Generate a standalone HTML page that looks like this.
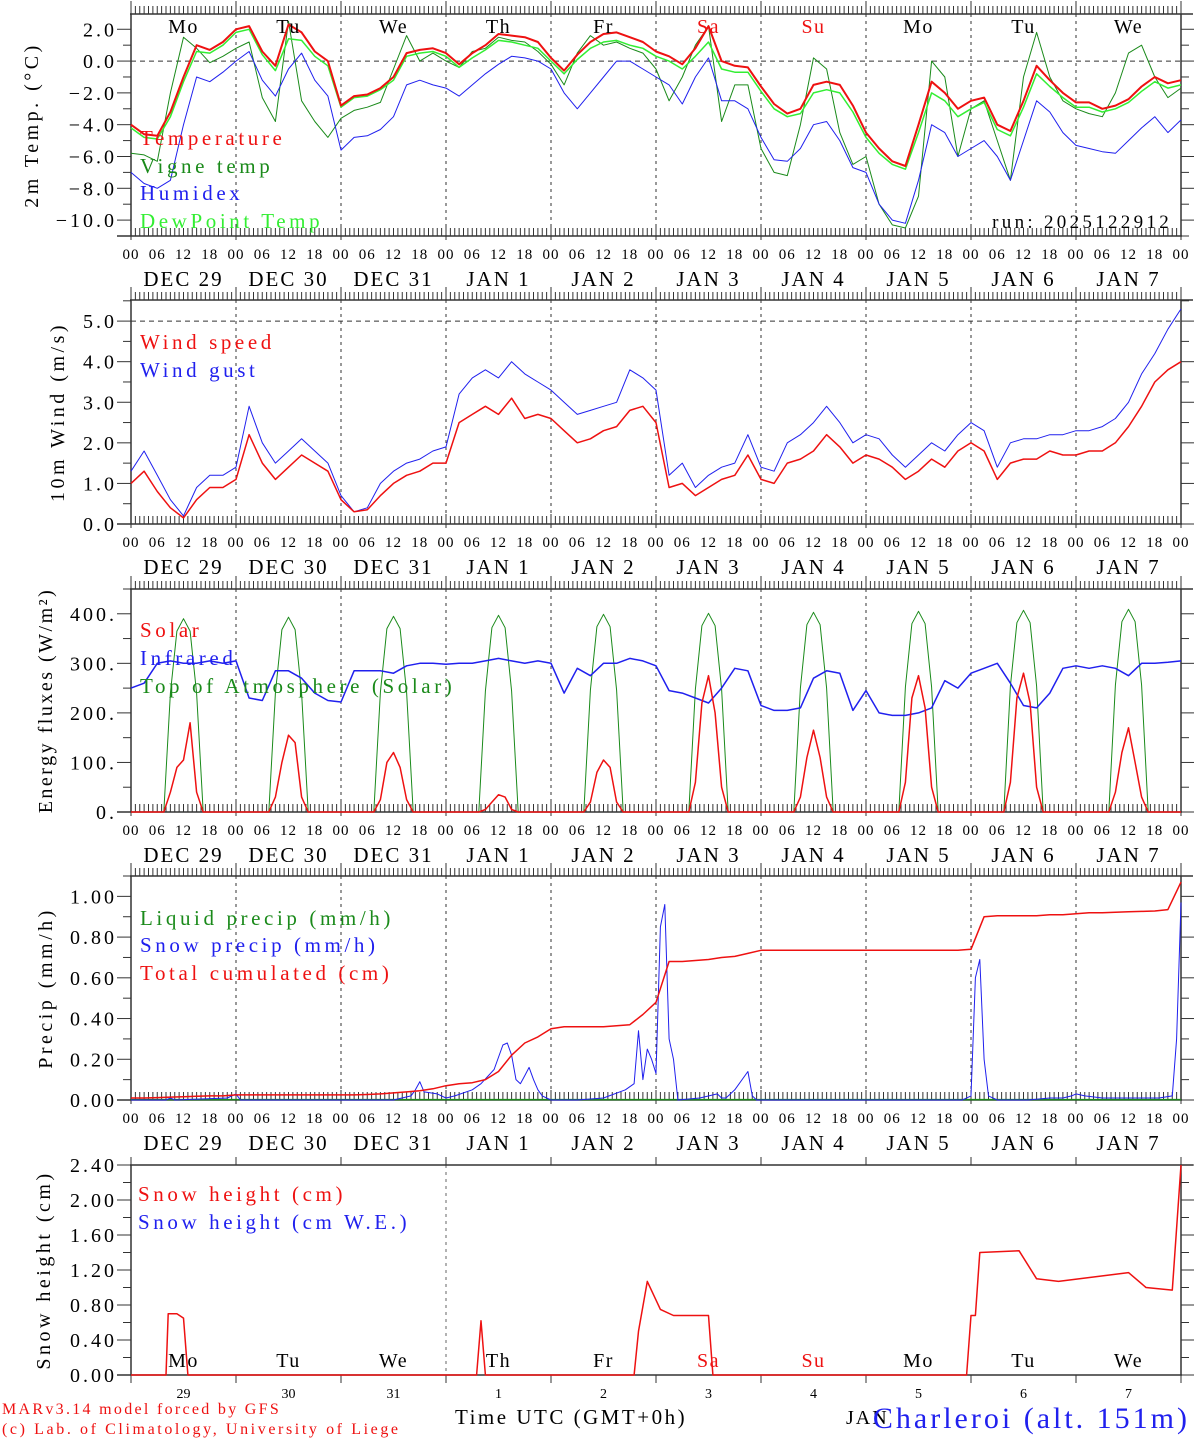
<!DOCTYPE html>
<html><head><meta charset="utf-8"><title>MAR forecast Charleroi</title>
<style>
html,body{margin:0;padding:0;background:#fff;}
svg{display:block;font-family:"Liberation Serif",serif;}
</style></head>
<body>
<svg id="chart" width="1194" height="1440" viewBox="0 0 1194 1440" xmlns="http://www.w3.org/2000/svg"></svg>
<script>
// ---- data (3-hourly, t = 0..240 h from DEC 29 00 UTC) ----
const dayNames = ["Mo","Tu","We","Th","Fr","Sa","Su","Mo","Tu","We"];
const dateLabels = ["DEC  29","DEC  30","DEC  31","JAN   1","JAN   2","JAN   3","JAN   4","JAN   5","JAN   6","JAN   7"];
const dayNums = ["29","30","31","1","2","3","4","5","6","7"];
const hourLabels = ["00","06","12","18"];

const tempRed = [-4.0,-4.6,-4.7,-3.2,-1.0,1.0,0.7,1.2,2.0,2.2,0.6,-0.3,2.3,1.8,0.6,0.0,-2.8,-2.2,-2.1,-1.7,-1.0,0.5,0.7,0.8,0.5,
 -0.2,0.5,1.0,1.7,1.6,1.5,1.2,0.2,-0.6,0.4,1.2,1.7,1.8,1.5,1.2,0.6,0.3,-0.2,0.8,2.2,0.0,-0.3,-0.4,-1.6,
 -2.7,-3.3,-3.0,-1.5,-1.3,-1.5,-2.8,-4.5,-5.5,-6.3,-6.6,-4.0,-1.3,-2.0,-3.0,-2.5,-2.3,-4.0,-4.4,-2.5,-0.3,-1.2,-2.0,-2.6,
 -2.6,-3.0,-2.8,-2.4,-1.6,-1.0,-1.4,-1.2];
const tempDew = [-4.2,-4.8,-4.9,-3.5,-1.3,0.6,0.5,1.0,1.8,2.0,0.4,-0.6,1.4,1.3,0.3,-0.3,-2.9,-2.3,-2.2,-1.8,-1.2,0.3,0.5,0.6,0.3,
 -0.4,0.2,0.7,1.3,1.2,1.0,0.8,0.0,-0.8,0.1,0.8,1.2,1.3,1.0,0.8,0.3,0.0,-0.5,0.3,1.2,-0.5,-0.7,-0.7,-1.9,
 -3.0,-3.5,-3.3,-2.0,-1.8,-2.0,-3.2,-4.8,-5.8,-6.5,-6.8,-4.5,-2.0,-2.5,-3.5,-3.0,-2.6,-4.3,-4.7,-2.9,-0.8,-1.6,-2.3,-2.9,
 -2.9,-3.2,-3.0,-2.6,-1.9,-1.3,-1.7,-1.5];
const tempVigne = [-5.8,-5.9,-6.3,-2.0,1.5,0.8,-0.1,0.3,0.8,1.2,-2.3,-3.8,2.5,-2.5,-3.8,-4.8,-3.6,-3.1,-2.9,-2.6,-0.5,1.6,0.0,0.5,0.0,
 -0.4,0.6,0.8,1.5,1.3,1.2,0.6,-0.2,-1.5,0.5,1.6,1.0,1.2,0.8,0.5,-0.5,-2.5,-1.0,1.0,2.2,-3.8,-1.5,-1.5,-5.5,
 -7.0,-7.2,-4.0,0.2,-0.5,-4.5,-6.5,-6.0,-9.0,-10.3,-10.5,-8.5,0.0,-1.0,-6.0,-3.0,-2.5,-5.0,-7.5,-1.0,1.8,-1.0,-2.5,-3.0,
 -3.3,-3.5,-2.0,0.5,1.0,-1.0,-2.3,-1.7];
const tempHumidex = [-7.0,-7.7,-8.0,-7.5,-4.0,-1.0,-1.3,-0.7,0.0,0.6,-1.2,-2.2,-0.5,0.5,-1.2,-2.2,-5.6,-4.8,-4.7,-4.3,-3.5,-1.5,-1.2,-1.5,-1.7,
 -2.2,-1.5,-0.8,-0.2,0.3,0.2,0.0,-0.5,-2.0,-3.0,-2.0,-1.0,0.0,0.0,-0.5,-1.0,-1.5,-2.7,-1.0,0.2,-2.5,-2.5,-3.0,-4.8,
 -6.2,-6.3,-5.5,-4.0,-3.8,-5.0,-6.7,-7.0,-9.0,-10.0,-10.2,-7.5,-4.0,-4.5,-6.0,-5.5,-5.0,-6.0,-7.5,-5.0,-2.5,-3.2,-4.5,-5.3,
 -5.5,-5.7,-5.8,-5.0,-4.2,-3.5,-4.5,-3.7];

const windSpeed = [1.0,1.3,0.8,0.4,0.15,0.6,0.9,0.9,1.1,2.2,1.5,1.1,1.4,1.7,1.5,1.3,0.6,0.3,0.35,0.7,1.0,1.2,1.3,1.5,1.5,
 2.5,2.7,2.9,2.7,3.1,2.6,2.7,2.6,2.3,2.0,2.1,2.3,2.4,2.8,2.9,2.5,0.9,1.0,0.7,0.9,1.1,1.2,1.7,1.1,
 1.0,1.5,1.6,1.8,2.2,1.9,1.5,1.7,1.6,1.4,1.1,1.3,1.6,1.4,1.8,2.0,1.8,1.1,1.5,1.6,1.6,1.8,1.7,1.7,
 1.8,1.8,2.0,2.4,2.9,3.5,3.8,4.0];
const windGust = [1.3,1.8,1.2,0.6,0.2,0.9,1.2,1.2,1.4,2.9,2.0,1.5,1.8,2.1,1.8,1.5,0.7,0.3,0.4,1.0,1.3,1.5,1.6,1.8,1.9,
 3.2,3.6,3.8,3.6,4.0,3.7,3.5,3.3,3.0,2.7,2.8,2.9,3.0,3.8,3.6,3.3,1.2,1.5,0.9,1.2,1.4,1.5,2.2,1.4,
 1.3,2.0,2.2,2.5,2.9,2.5,2.0,2.2,2.1,1.7,1.4,1.7,2.0,1.8,2.2,2.5,2.3,1.4,2.0,2.1,2.1,2.2,2.2,2.3,
 2.3,2.4,2.6,3.0,3.7,4.2,4.8,5.3];

const infrared = [250,260,300,305,300,300,305,300,305,230,225,285,285,270,240,225,222,285,285,285,280,295,300,300,298,
 300,300,305,310,305,300,305,300,240,290,275,300,300,310,305,295,245,240,230,220,250,290,285,215,
 205,205,210,270,285,280,205,245,200,195,195,200,210,265,250,280,290,300,260,215,210,240,290,295,
 290,295,290,275,300,300,302,305];
// solar / TOA sampled at these hours of each day
const sunHours = [0,7.5,9,10.5,12,13.5,15,16.5,24];
const toaDays = [
 [0,0,240,365,390,365,240,0,0],[0,0,240,368,393,368,240,0,0],[0,0,242,370,395,370,242,0,0],[0,0,244,372,397,372,244,0,0],[0,0,246,374,399,374,246,0,0],
 [0,0,248,376,401,376,248,0,0],[0,0,250,378,403,378,250,0,0],[0,0,252,380,405,380,252,0,0],[0,0,254,382,407,382,254,0,0],[0,0,256,384,409,384,256,0,0]];
const solarDays = [
 [0,0,40,90,105,180,40,0,0],[0,0,30,100,155,140,30,0,0],[0,0,25,100,120,90,25,0,0],[0,0,5,20,35,30,5,0,0],[0,0,20,80,105,90,20,0,0],
 [0,0,60,220,275,200,50,0,0],[0,0,30,110,165,110,30,0,0],[0,0,60,230,275,210,50,0,0],[0,0,60,230,280,220,50,0,0],[0,0,40,120,170,100,30,0,0]];

const precipTotal = [0.01,0.01,0.012,0.014,0.016,0.018,0.02,0.02,0.025,0.025,0.025,0.025,0.025,0.025,0.025,0.025,0.025,0.025,0.027,0.03,0.035,0.04,0.045,0.055,0.07,
 0.08,0.085,0.1,0.14,0.22,0.28,0.31,0.35,0.36,0.36,0.36,0.36,0.365,0.37,0.42,0.48,0.68,0.68,0.685,0.69,0.7,0.705,0.72,0.735,
 0.735,0.735,0.735,0.735,0.735,0.735,0.735,0.735,0.735,0.735,0.735,0.735,0.735,0.735,0.735,0.74,0.9,0.905,0.905,0.905,0.905,0.91,0.91,0.915,
 0.92,0.92,0.922,0.924,0.926,0.928,0.935,1.07];
const snowTimes = [0,8,9,10,22,24,25,40,60,64,65,66,67,70,72,74,78,80,83,85,86,87,88,89,90,91,92,93,94,95,96,99,102,108,113,115,116,117,118,119,120,121,122,123,124,125,130,134,135,136,138,141,142,143,144,190,192,193,194,195,196,198,205,210,213,215,216,218,222,235,238,239,240];
const snowVals  = [0,0,0.01,0,0.01,0.03,0,0,0,0.02,0.05,0.09,0.04,0.03,0.01,0.02,0.05,0.08,0.15,0.27,0.28,0.22,0.1,0.08,0.12,0.16,0.1,0.05,0.02,0.01,0,0,0,0.01,0.05,0.08,0.34,0.1,0.25,0.2,0.13,0.85,0.96,0.3,0.2,0,0.01,0.03,0.01,0.01,0.05,0.14,0.02,0,0,0,0.02,0.6,0.69,0.2,0.02,0,0,0.01,0.01,0.02,0.03,0.02,0.01,0.01,0.02,0.3,0.97];
const snowHTimes = [0,8,8.5,10.5,12,13,79,80,81,115,116,118,121,124,132,133,191,192,193,194,203,207,212,228,232,238,240];
const snowHVals  = [0,0,0.7,0.7,0.65,0,0,0.62,0,0,0.5,1.07,0.75,0.68,0.68,0,0,0.68,0.68,1.4,1.42,1.1,1.07,1.17,1.0,0.97,2.4];

// ---- drawing ----
const svg = document.getElementById('chart');
const NS = 'http://www.w3.org/2000/svg';
const X0 = 131, X1 = 1181;
function xs(t){ return X0 + t*(X1-X0)/240; }
function mk(tag, attrs, parent){
  const e = document.createElementNS(NS, tag);
  for (const k in attrs) e.setAttribute(k, attrs[k]);
  (parent||svg).appendChild(e);
  return e;
}
function txt(s, x, y, size, color, anchor, parent, ls){
  const e = mk('text', {x:x, y:y, 'font-size':size, fill:color||'#000', 'text-anchor':anchor||'start', 'letter-spacing':ls||0}, parent);
  e.textContent = s;
  return e;
}
function series(times, vals, ys, color, w, name, g){
  let d = '';
  for (let i=0;i<vals.length;i++) d += (i?'L':'M') + xs(times[i]).toFixed(1) + ' ' + ys(vals[i]).toFixed(1);
  const p = mk('path', {d:d, fill:'none', stroke:color, 'stroke-width':w, 'stroke-linejoin':'round'}, g);
  
  
  return p;
}
const t3 = []; for (let i=0;i<=80;i++) t3.push(i*3);

function panel(cfg){
  const g = mk('g', {});
  
  
  const ys = v => cfg.bottom - (v - cfg.ymin)*(cfg.bottom-cfg.top)/(cfg.ymax-cfg.ymin);
  for (let d=1; d<10; d++){
    if (cfg.snow && d!==3) continue;
    mk('line',{x1:xs(d*24),x2:xs(d*24),y1:cfg.top,y2:cfg.bottom,stroke:cfg.snow?'#999':'#333','stroke-width':cfg.snow?1.5:1,'stroke-dasharray':'3,4'},g);
  }
  if (cfg.hline!==undefined) mk('line',{x1:X0,x2:X1,y1:ys(cfg.hline),y2:ys(cfg.hline),stroke:'#333','stroke-width':1,'stroke-dasharray':'5,4'},g);
  mk('line',{x1:X0,x2:X0,y1:cfg.top,y2:cfg.bottom,stroke:'#333','stroke-width':1.5},g);
  mk('line',{x1:X1,x2:X1,y1:cfg.top,y2:cfg.bottom,stroke:'#333','stroke-width':1.5},g);
  mk('line',{x1:X0-1,x2:X1+12,y1:cfg.top,y2:cfg.top,stroke:'#333','stroke-width':1.5},g);
  mk('line',{x1:X0-14,x2:X1+1,y1:cfg.bottom,y2:cfg.bottom,stroke:'#333','stroke-width':1.5},g);
  for (let v=cfg.ymin; v<=cfg.ymax+1e-9; v+=cfg.minor){
    const y = ys(v);
    const major = Math.abs(Math.round(v/cfg.major)*cfg.major - v) < 1e-6;
    mk('line',{x1:X0-(major?14:8),x2:X0,y1:y,y2:y,stroke:'#333','stroke-width':1},g);
    mk('line',{x1:X1,x2:X1+(major?14:8),y1:y,y2:y,stroke:'#333','stroke-width':1},g);
  }
  cfg.labels.forEach(v => {
    txt(cfg.fmt(v), X0-14, ys(v)+7, 20, '#000', 'end', g, 3);
  });
  if (!cfg.snow){
    for (let h=0; h<=240; h++){
      const x = xs(h), maj = h%24===0;
      mk('line',{x1:x,x2:x,y1:cfg.top-(maj?13:8),y2:cfg.top,stroke:'#333','stroke-width':1},g);
      mk('line',{x1:x,x2:x,y1:cfg.bottom-(maj?10:8),y2:cfg.bottom+(maj?4:0),stroke:'#333','stroke-width':1},g);
    }
    for (let h=0; h<=240; h+=6){
      const l = mk('text',{x:xs(h), y:cfg.bottom+23, 'font-size':15, fill:'#000','text-anchor':'middle','letter-spacing':1},g);
      l.textContent = hourLabels[(h/6)%4];
    }
    for (let d=0; d<10; d++){
      const l = mk('text',{x:xs(d*24+12), y:cfg.bottom+50, 'font-size':21, fill:'#000','text-anchor':'middle','xml:space':'preserve','letter-spacing':2},g);
      l.textContent = dateLabels[d];
    }
  } else {
    for (let d=0; d<=10; d++){
      mk('line',{x1:xs(d*24),x2:xs(d*24),y1:cfg.top-8,y2:cfg.top,stroke:'#333','stroke-width':1},g);
      mk('line',{x1:xs(d*24),x2:xs(d*24),y1:cfg.bottom,y2:cfg.bottom+8,stroke:'#333','stroke-width':1},g);
      if (d<10) txt(dayNums[d], xs(d*24+12), cfg.bottom+23, 14, '#000', 'middle', g);
    }
  }
  const yt = mk('text',{x:0,y:0,'font-size':20,fill:'#000','text-anchor':'middle','letter-spacing':cfg.tls||3.5,transform:`translate(${cfg.tx},${(cfg.top+cfg.bottom)/2}) rotate(-90)`},g);
  
  
  yt.textContent = cfg.title;
  return {g, ys};
}

const LS = 3.6;
// Panel 1: temperature
const p1 = panel({name:'temperature-panel',top:14,bottom:236,ymin:-11,ymax:2.96,minor:1,major:2,labels:[-10,-8,-6,-4,-2,0,2],fmt:v=>(v<0?'\u2212':'')+Math.abs(v).toFixed(1),hline:0,tx:38,title:'2m Temp. (\u00B0C)',tls:3.5});
series(t3,tempVigne,p1.ys,'#1a8a1a',1,'vigne-temp-line',p1.g);
series(t3,tempHumidex,p1.ys,'#2020ee',1,'humidex-line',p1.g);
series(t3,tempDew,p1.ys,'#33ee33',1.5,'dewpoint-line',p1.g);
series(t3,tempRed,p1.ys,'#ee1111',2,'temperature-line',p1.g);
dayNames.forEach((n,i)=>{ txt(n, xs(i*24+12), 33, 20, (i===5||i===6)?'#ee1111':'#000','middle',p1.g,1.5); });
txt('Temperature',140,145,21,'#ee1111','start',p1.g,LS);
txt('Vigne temp',140,173,21,'#1a8a1a','start',p1.g,LS);
txt('Humidex',140,200,21,'#2020ee','start',p1.g,LS);
txt('DewPoint Temp',140,228,21,'#33ee33','start',p1.g,LS);
txt('run: 2025122912',1172,228,19,'#000','end',p1.g,3.3);

// Panel 2: wind
const p2 = panel({name:'wind-panel',top:300,bottom:524,ymin:0,ymax:5.52,minor:0.5,major:1,labels:[0,1,2,3,4,5],fmt:v=>v.toFixed(1),hline:5,tx:64,title:'10m Wind (m/s)',tls:3.5});
series(t3,windGust,p2.ys,'#2020ee',1,'wind-gust-line',p2.g);
series(t3,windSpeed,p2.ys,'#ee1111',1.5,'wind-speed-line',p2.g);
txt('Wind speed',140,349,21,'#ee1111','start',p2.g,LS);
txt('Wind gust',140,377,21,'#2020ee','start',p2.g,LS);

// Panel 3: energy
const p3 = panel({name:'energy-panel',top:589,bottom:812,ymin:0,ymax:450,minor:50,major:100,labels:[0,100,200,300,400],fmt:v=>v+'.',tx:52,title:'Energy fluxes (W/m\u00B2)',tls:2.5});
const sunT = [], toaV = [], solV = [];
for (let d=0; d<10; d++) for (let k=0;k<sunHours.length;k++){ sunT.push(d*24+sunHours[k]); toaV.push(toaDays[d][k]); solV.push(solarDays[d][k]); }
series(sunT,toaV,p3.ys,'#1a8a1a',1,'toa-solar-line',p3.g);
series(t3,infrared,p3.ys,'#2020ee',1.5,'infrared-line',p3.g);
series(sunT,solV,p3.ys,'#ee1111',1.5,'solar-line',p3.g);
txt('Solar',140,637,21,'#ee1111','start',p3.g,LS);
txt('Infrared',140,665,21,'#2020ee','start',p3.g,LS);
txt('Top of Atmosphere (Solar)',140,693,21,'#1a8a1a','start',p3.g,LS);

// Panel 4: precip
const p4 = panel({name:'precip-panel',top:876,bottom:1100,ymin:0,ymax:1.1,minor:0.1,major:0.2,labels:[0,0.2,0.4,0.6,0.8,1.0],fmt:v=>v.toFixed(2),tx:52,title:'Precip (mm/h)',tls:3.5});
series([0,240],[0.002,0.002],p4.ys,'#1a8a1a',1.5,'liquid-precip-line',p4.g);
series(snowTimes,snowVals,p4.ys,'#2020ee',1,'snow-precip-line',p4.g);
series(t3,precipTotal,p4.ys,'#ee1111',1.5,'total-cumulated-line',p4.g);
txt('Liquid precip (mm/h)',140,925,21,'#1a8a1a','start',p4.g,LS);
txt('Snow precip (mm/h)',140,952,21,'#2020ee','start',p4.g,LS);
txt('Total cumulated (cm)',140,980,21,'#ee1111','start',p4.g,LS);

// Panel 5: snow height
const p5 = panel({name:'snow-height-panel',top:1165,bottom:1375,ymin:0,ymax:2.4,minor:0.2,major:0.4,labels:[0,0.4,0.8,1.2,1.6,2.0,2.4],fmt:v=>v.toFixed(2),tx:50,title:'Snow height (cm)',tls:3.5,snow:true});
series(snowHTimes,snowHVals,p5.ys,'#ee1111',1.5,'snow-height-line',p5.g);
dayNames.forEach((n,i)=>{ txt(n, xs(i*24+12), 1367, 20, (i===5||i===6)?'#ee1111':'#000','middle',p5.g,1.5); });
txt('Snow height (cm)',138,1201,21,'#ee1111','start',p5.g,LS);
txt('Snow height (cm W.E.)',138,1229,21,'#2020ee','start',p5.g,LS);

// footer
txt('MARv3.14 model forced by GFS',2,1414,16,'#ee1111','start',null,2.3);
txt('(c) Lab. of Climatology, University of Liege',2,1434,16,'#ee1111','start',null,2.6);
txt('Time UTC (GMT+0h)',455,1424,21,'#000','start',null,2.5);
txt('JAN',846,1424,20,'#000','start',null,2);
const loc = txt('Charleroi (alt. 151m)',1190,1428,30,'#2020ee','end',null,3);


</script>
</body></html>
